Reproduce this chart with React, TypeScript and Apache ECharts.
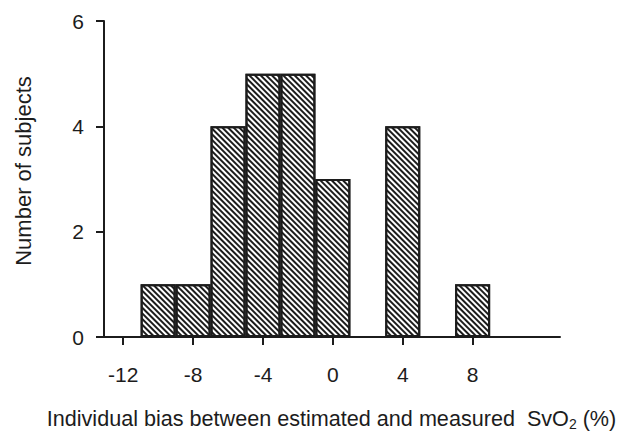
import React, { useEffect, useRef } from "react";
import * as echarts from "echarts";

const binCenters = [-10, -8, -6, -4, -2, 0, 4, 8];
const counts = [1, 1, 4, 5, 5, 3, 4, 1];
const xTickValues = [-12, -8, -4, 0, 4, 8];
const yTickValues = [0, 2, 4, 6];

const FONT = "'Liberation Sans', Arial, Helvetica, sans-serif";
const INK = "#1c1c1c";

export default function App() {
  const ref = useRef<HTMLDivElement>(null);
  useEffect(() => {
    if (!ref.current) return;
    const chart = echarts.init(ref.current, undefined, { renderer: "svg" });
    chart.setOption({
      animation: false,
      backgroundColor: "#fff",
      grid: { left: 97, right: 68, top: 21, bottom: 95, containLabel: false, outerBoundsMode: "none" },
      xAxis: {
        type: "value",
        min: -13.5,
        max: 13,
        splitLine: { show: false },
        axisLine: { show: true, onZero: false, lineStyle: { color: INK, width: 2 } },
        axisTick: {
          show: true,
          customValues: xTickValues,
          length: 8,
          lineStyle: { color: INK, width: 2 },
        },
        axisLabel: {
          customValues: xTickValues,
          margin: 27,
          fontSize: 21,
          fontFamily: FONT,
          color: INK,
        },
        name: "{a|Individual bias between estimated and measured  SvO}{s|2}{a| (%)}",
        nameLocation: "middle",
        nameGap: 68,
        nameTextStyle: {
          padding: [0, 0, 0, 6],
          rich: {
            a: { fontSize: 21.6, fontFamily: FONT, color: INK, lineHeight: 26, verticalAlign: "middle" },
            s: { fontSize: 14, fontFamily: FONT, color: INK, lineHeight: 14, verticalAlign: "bottom" },
          },
        },
      },
      yAxis: {
        type: "value",
        min: 0,
        max: 6,
        interval: 2,
        offset: -7,
        splitLine: { show: false },
        axisLine: { show: true, onZero: false, lineStyle: { color: INK, width: 2 } },
        axisTick: { show: true, length: 8, lineStyle: { color: INK, width: 2 }, customValues: yTickValues },
        axisLabel: {
          customValues: yTickValues,
          margin: 20,
          fontSize: 21,
          fontFamily: FONT,
          color: INK,
        },
        name: "Number of subjects",
        nameLocation: "middle",
        nameGap: 70,
        nameTextStyle: {
          fontSize: 22,
          fontFamily: FONT,
          color: INK,
          padding: [0, 0, 0, 16],
        },
      },
      series: [
        {
          type: "bar",
          data: binCenters.map((c, i) => [c, counts[i]]),
          barWidth: 35,
          itemStyle: {
            color: "#ffffff",
            borderColor: INK,
            borderWidth: 2,
            decal: {
              symbol: "rect",
              symbolSize: 1,
              color: INK,
              backgroundColor: "#ffffff",
              dashArrayX: [1, 0],
              dashArrayY: [1.8, 1.8],
              rotation: Math.PI / 4,
            },
          },
        },
      ],
    });
    return () => chart.dispose();
  }, []);
  return (
    <div
      ref={ref}
      style={{ position: "absolute", left: 0, top: 0, width: 628, height: 432 }}
    />
  );
}
